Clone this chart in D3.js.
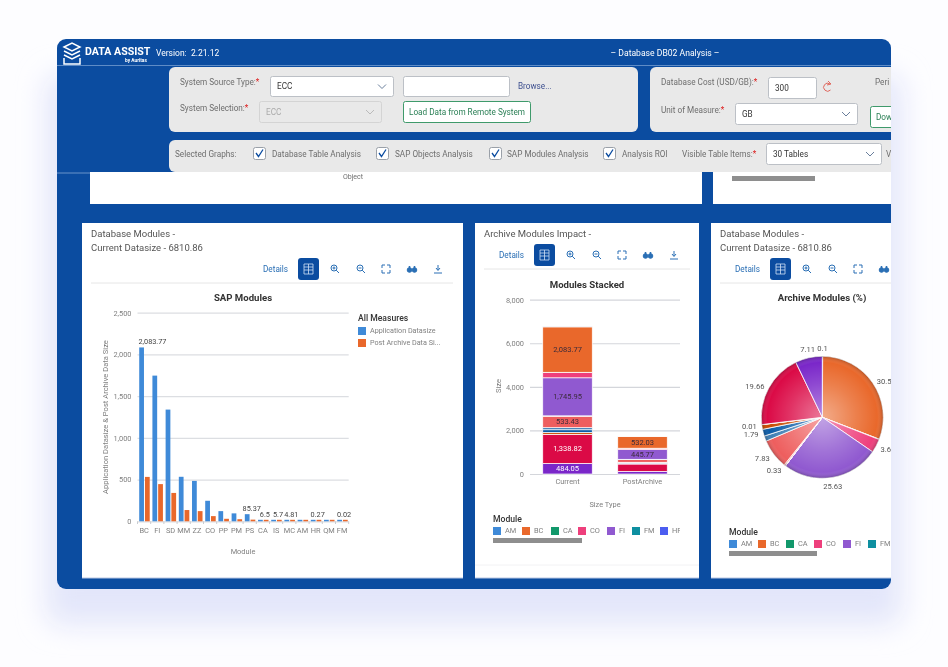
<!DOCTYPE html>
<html>
<head>
<meta charset="utf-8">
<script src="https://cdn.jsdelivr.net/npm/d3@7"></script>
<style>
  html, body { margin: 0; padding: 0; background: #fdfdff; overflow: hidden; }
  text { font-family: Roboto, sans-serif; }
  svg { filter: blur(0.35px); }
</style>
</head>
<body>
<div id="wrapper"></div>
<script>
// bar chart data, in the order shown on the x axis
const barModules = ["BC", "FI", "SD", "MM", "ZZ", "CO", "PP", "PM", "PS", "CA", "IS", "MC", "AM", "HR", "QM", "FM"]
const appDatasize = [2083.77, 1745.95, 1338.82, 533.43, 484.05, 246, 121.9, 95, 85.37, 6.5, 5.7, 4.81, 7, 0.27, 0.7, 0.02]
const postDatasize = [532.03, 445.77, 340, 135, 122, 62, 30, 25, 20, 1.5, 1.4, 1.2, 0.5, 0.07, 0.1, 0.01]
const barLabels = ["2,083.77", "", "", "", "", "", "", "", "85.37", "6.5", "5.7", "4.81", "", "0.27", "", "0.02"]
const barTicks = [0, 500, 1000, 1500, 2000, 2500]
const measureNames = ["Application Datasize", "Post Archive Data Si..."]

// stacked chart and pie use the alphabetical module order
const modules = ["AM", "BC", "CA", "CO", "FI", "FM", "HR", "IS", "MC", "MM", "PM", "PP", "PS", "QM", "SD", "ZZ"]
const moduleColors = ["#3f8ad8", "#e9682b", "#12986b", "#ee3f7c", "#9059d0", "#0e8fa0", "#4c5df0", "#e0a030",
  "#f08a8a", "#ee5e5e", "#3f7fb5", "#0b5ca8", "#c94a00", "#f2508a", "#db0a46", "#7a27c9"]
const sizeTypes = ["Current", "PostArchive"]
const stackTicks = [0, 2000, 4000, 6000, 8000]
const stackLabels = { Current: ["BC", "FI", "MM", "SD", "ZZ"], PostArchive: ["BC", "FI"] }

const piePercent = [0.1, 30.59, 0.1, 3.62, 25.63, 0, 0, 0.08, 0.33, 7.83, 1.4, 1.79, 1.25, 0.01, 19.66, 7.11]
const pieLabels = ["0.1", "30.59", "", "3.62", "25.63", "", "", "", "0.33", "7.83", "", "1.79", "", "0.01", "19.66", "7.11"]

const BLUE = "#0b4ca0"
const svg = d3.select("#wrapper").append("svg")
  .attr("width", 948)
  .attr("height", 667)
  .style("display", "block")
const defs = svg.append("defs")

defs.append("filter").attr("id", "glow")
  .attr("x", "-20%").attr("y", "-20%").attr("width", "140%").attr("height", "140%")
  .append("feGaussianBlur").attr("stdDeviation", 14)
defs.append("clipPath").attr("id", "frameClip")
  .append("rect").attr("x", 57).attr("y", 39).attr("width", 834).attr("height", 550).attr("rx", 9)
defs.append("clipPath").attr("id", "legendClip")
  .append("rect").attr("x", 490).attr("y", 510).attr("width", 190).attr("height", 30)

const pieGlaze = defs.append("radialGradient").attr("id", "pieGlaze")
pieGlaze.append("stop").attr("offset", "0%").attr("stop-color", "#fff").attr("stop-opacity", 0.45)
pieGlaze.append("stop").attr("offset", "55%").attr("stop-color", "#fff").attr("stop-opacity", 0.16)
pieGlaze.append("stop").attr("offset", "90%").attr("stop-color", "#fff").attr("stop-opacity", 0)
pieGlaze.append("stop").attr("offset", "100%").attr("stop-color", "#000").attr("stop-opacity", 0.22)

// soft shadow under the window
svg.append("rect")
  .attr("x", 46).attr("y", 75).attr("width", 856).attr("height", 550).attr("rx", 14)
  .attr("fill", "#e3e6fa")
  .attr("filter", "url(#glow)")

const page = svg.append("g").attr("clip-path", "url(#frameClip)")
page.append("rect").attr("x", 57).attr("y", 39).attr("width", 834).attr("height", 550).attr("fill", BLUE)

function label(parent, x, y, str, opts = {}) {
  return parent.append("text")
    .attr("x", x)
    .attr("y", y + 0.5)
    .attr("font-size", opts.size || 8.2)
    .attr("font-weight", opts.weight || 400)
    .attr("fill", opts.fill || "#6e6e6e")
    .attr("text-anchor", opts.anchor || "start")
    .attr("dominant-baseline", "middle")
    .text(str)
}

function box(parent, x, y, w, h, opts = {}) {
  return parent.append("rect")
    .attr("x", x).attr("y", y).attr("width", w).attr("height", h)
    .attr("rx", opts.rx === undefined ? 2 : opts.rx)
    .attr("fill", opts.fill || "#fff")
    .attr("stroke", opts.stroke || "none")
    .attr("stroke-width", opts.sw || 1)
}

// ---- header ----
page.append("line").attr("x1", 57).attr("x2", 891).attr("y1", 65.5).attr("y2", 65.5)
  .attr("stroke", "#5f8cc6").attr("stroke-width", 1)
page.append("path")
  .attr("d", "M64 47 L72 43 L80 47 L72 51 Z M64 51 L72 55 L80 51 M64 55 L72 59 L80 55 M64 58 V64 H80 V58")
  .attr("fill", "none").attr("stroke", "#fff").attr("stroke-width", 1.5)
label(page, 85, 52, "DATA ASSIST", { size: 10.6, weight: 700, fill: "#fff" })
label(page, 125, 60.5, "by Auritas", { size: 4.8, weight: 700, fill: "#fff" })
label(page, 156, 53, "Version:  2.21.12", { size: 8.5, fill: "#fff" }).attr("xml:space", "preserve")
label(page, 665, 53, "– Database DB02 Analysis –", { size: 8.6, fill: "#fff", anchor: "middle" })

// ---- content hidden behind the filter bar ----
box(page, 90, 172, 612, 32, { rx: 0 })
box(page, 713, 172, 190, 32, { rx: 0 })
label(page, 353, 177, "Object", { size: 7, anchor: "middle" })
box(page, 732, 176, 83, 5, { rx: 0, fill: "#8e8e8e" })
page.append("line").attr("x1", 57).attr("x2", 90).attr("y1", 173).attr("y2", 173).attr("stroke", "#6b93c9")

// ---- filter panels ----
box(page, 169, 67, 469, 65, { rx: 6, fill: "#e9e9e9" })
box(page, 650, 67, 260, 65, { rx: 6, fill: "#e9e9e9" })
box(page, 169, 140, 740, 32, { rx: 6, fill: "#e9e9e9" })

function required(parent, x, y, str) {
  const t = label(parent, x, y, str)
  t.append("tspan").attr("fill", "#d22").text("*")
}

function chevron(parent, x, y, color) {
  parent.append("path")
    .attr("d", `M${x - 4} ${y - 2} L${x} ${y + 2} L${x + 4} ${y - 2}`)
    .attr("fill", "none").attr("stroke", color || "#6a7f9c").attr("stroke-width", 1)
}

function select(parent, x, y, w, h, str, disabled) {
  box(parent, x + 0.5, y + 0.5, w, h, {
    fill: disabled ? "#e9e9e9" : "#fff",
    stroke: disabled ? "#d4d4d4" : "#bcc0c6"
  })
  label(parent, x + 7, y + h / 2 + 0.5, str, { fill: disabled ? "#aaa" : "#333" })
  chevron(parent, x + w - 11, y + h / 2 + 0.5, disabled ? "#bbb" : "#6a7f9c")
}

required(page, 180, 82, "System Source Type:")
select(page, 270, 76, 123, 20, "ECC")
box(page, 403.5, 76.5, 106, 20, { stroke: "#bcc0c6" })
label(page, 518, 86, "Browse...", { fill: "#3d4f8f" })
required(page, 180, 108, "System Selection:")
select(page, 259, 101, 122, 21, "ECC", true)
box(page, 403.5, 101.5, 127, 21, { stroke: "#3f9a6b" })
label(page, 409, 112, "Load Data from Remote System", { fill: "#2a7f55" })

required(page, 661, 82, "Database Cost (USD/GB):")
box(page, 768.5, 77.5, 48, 21, { stroke: "#bcc0c6" })
label(page, 775, 88, "300", { fill: "#333" })
page.append("path")
  .attr("d", "M830 84 A4 4 0 1 0 830.5 90")
  .attr("fill", "none").attr("stroke", "#e0685f").attr("stroke-width", 1)
page.append("path").attr("d", "M828 81 L831 84 L827 85").attr("fill", "none").attr("stroke", "#e0685f")
label(page, 875, 82, "Peri")
required(page, 661, 110, "Unit of Measure:")
select(page, 735, 103, 122, 21, "GB")
box(page, 870.5, 106.5, 60, 21, { stroke: "#3f9a6b" })
label(page, 876, 117, "Download", { fill: "#2a7f55" })

label(page, 175, 154, "Selected Graphs:")
const graphChecks = [[253, 272, "Database Table Analysis"], [376, 395, "SAP Objects Analysis"],
  [489, 507, "SAP Modules Analysis"], [603, 622, "Analysis ROI"]]
graphChecks.forEach(([cx, tx, str]) => {
  box(page, cx + 0.5, 147.5, 12, 12, { stroke: "#9aa0a8" })
  page.append("path").attr("d", `M${cx + 3} ${153} L${cx + 5.5} ${156.5} L${cx + 10} ${149.5}`)
    .attr("fill", "none").attr("stroke", BLUE).attr("stroke-width", 1.3)
  label(page, tx, 154, str)
})
required(page, 682, 154, "Visible Table Items:")
select(page, 766, 143, 115, 21, "30 Tables")
label(page, 886, 154, "Vis")

// ---- cards ----
function card(x, w, lines, titleX) {
  box(page, x, 223, w, 355, { rx: 0 })
  page.append("line").attr("x1", x).attr("x2", x + w).attr("y1", 578).attr("y2", 578).attr("stroke", "#b9c7e3")
  lines.forEach((str, i) => label(page, titleX, 234 + i * 14, str, { size: 9.5, fill: "#555" }))
}

function toolbar(x, y, dividerX1, dividerX2) {
  // x is the left edge of the Details link, y the row centre
  label(page, x, y, "Details", { size: 8.2, fill: "#2a6fb5" })
  box(page, x + 35, y - 11, 21, 22, { rx: 3, fill: BLUE })
  page.append("path")
    .attr("d", `M${x + 41} ${y - 5} h9 v10 h-9 Z M${x + 45.5} ${y - 5} v10 M${x + 41} ${y - 2} h9 M${x + 41} ${y + 1} h9`)
    .attr("fill", "none").attr("stroke", "#cfe0f5").attr("stroke-width", 0.8)
  const ink = "#2a6fb5"
  const icon = page.append("g").attr("fill", "none").attr("stroke", ink).attr("stroke-width", 1)
  // zoom in, zoom out
  const zoomXs = [x + 72, x + 98]
  zoomXs.forEach((ix, i) => {
    icon.append("circle").attr("cx", ix - 1).attr("cy", y - 1).attr("r", 3)
    icon.append("path").attr("d", `M${ix + 1.2} ${y + 1.2} L${ix + 4} ${y + 4} M${ix - 2.5} ${y - 1} h3`
      + (i === 0 ? ` M${ix - 1} ${y - 2.5} v3` : ""))
  })
  // fullscreen
  const fx = x + 123
  icon.append("path").attr("d", `M${fx - 4} ${y - 1} v-3 h3 M${fx + 1} ${y - 4} h3 v3 M${fx + 4} ${y + 1} v3 h-3 M${fx - 1} ${y + 4} h-3 v-3`)
  // binoculars
  const bx = x + 149
  icon.append("circle").attr("cx", bx - 2.5).attr("cy", y + 1).attr("r", 2.3).attr("fill", ink)
  icon.append("circle").attr("cx", bx + 2.5).attr("cy", y + 1).attr("r", 2.3).attr("fill", ink)
  icon.append("path").attr("d", `M${bx - 2.5} ${y - 3} v2 M${bx + 2.5} ${y - 3} v2`).attr("stroke-width", 1.6)
  // download
  const dx = x + 175
  icon.append("path").attr("d", `M${dx} ${y - 4} v5 M${dx - 2} ${y - 1} L${dx} ${y + 1.5} L${dx + 2} ${y - 1} M${dx - 4} ${y + 4} h8`)
  page.append("line").attr("x1", dividerX1).attr("x2", dividerX2).attr("y1", y + 14).attr("y2", y + 14)
    .attr("stroke", "#e6e6e6")
}

function moduleLegend(parent, x, y, xs) {
  label(parent, x, y, "Module", { size: 8.6, weight: 500, fill: "#333" })
  const shown = modules.slice(0, xs.length)
  const items = parent.selectAll(null).data(shown).join("g")
  items.append("rect")
    .attr("x", (d, i) => xs[i]).attr("y", y + 8).attr("width", 8).attr("height", 8)
    .attr("fill", (d, i) => moduleColors[i])
  items.append("text")
    .attr("x", (d, i) => xs[i] + 12).attr("y", y + 12.5)
    .attr("dominant-baseline", "middle").attr("font-size", 7.4).attr("fill", "#808080")
    .text(d => d)
}

function styleAxis(g) {
  g.select(".domain").remove()
  g.selectAll("text").attr("fill", "#808080").attr("font-size", 7.4)
    .attr("font-family", "Roboto, sans-serif")
}

card(82, 381, ["Database Modules -", "Current Datasize - 6810.86"], 91)
card(475, 224, ["Archive Modules Impact -"], 484)
card(711, 200, ["Database Modules -", "Current Datasize - 6810.86"], 720)
toolbar(263, 269, 91, 453)
toolbar(499, 255, 484, 690)
toolbar(735, 269, 720, 900)
page.append("line").attr("x1", 475).attr("x2", 699).attr("y1", 565).attr("y2", 565).attr("stroke", "#f2f2f4")

// ---- SAP Modules grouped bars ----
const barBounds = page.append("g")
const barX = d3.scaleBand().domain(barModules).range([137.5, 348.7])
const barY = d3.scaleLinear().domain([0, 2500]).range([521.3, 312.7])

label(page, 243, 298, "SAP Modules", { size: 9.6, weight: 700, fill: "#333", anchor: "middle" })
barBounds.append("g")
  .attr("transform", "translate(137.5,0)")
  .call(d3.axisLeft(barY).tickValues(barTicks).tickSize(-211.2).tickPadding(6).tickFormat(d3.format(",")))
  .call(styleAxis)
  .call(g => g.selectAll("line").attr("stroke", "#dcdee2").attr("stroke-width", 1.2))
barBounds.append("g")
  .attr("transform", "translate(0,521.3)")
  .call(d3.axisBottom(barX).tickSize(0).tickPadding(6))
  .call(styleAxis)
barBounds.selectAll(".edge").data(d3.range(barModules.length + 1)).join("line")
  .attr("class", "edge")
  .attr("x1", i => barX.range()[0] + i * barX.step())
  .attr("x2", i => barX.range()[0] + i * barX.step())
  .attr("y1", 521.3).attr("y2", 524)
  .attr("stroke", "#c9ccd1")

const barWidth = barX.step() * 0.36
const minBar = 1.5
const barSeries = [appDatasize, postDatasize]
const barColors = ["#3f8ad8", "#e9682b"]
barSeries.forEach((values, s) => {
  barBounds.append("g").selectAll("rect").data(values).join("rect")
    .attr("x", (d, i) => barX(barModules[i]) + barX.step() * 0.13 + s * (barWidth + 1))
    .attr("width", barWidth)
    .attr("y", d => Math.min(barY(d), barY(0) - minBar))
    .attr("height", d => Math.max(barY(0) - barY(d), minBar))
    .attr("fill", barColors[s])
})
barBounds.append("g").selectAll("text").data(barLabels).join("text")
  .attr("x", (d, i) => barX(barModules[i]) + barX.bandwidth() / 2 + 2)
  .attr("y", (d, i) => Math.min(barY(appDatasize[i]), barY(0) - minBar) - 3)
  .attr("text-anchor", "middle")
  .attr("font-size", 7.3).attr("fill", "#444")
  .text(d => d)
  .each(function () {
    // keep the tall bar's label from running past the left edge of the plot
    const w = this.getComputedTextLength()
    const x = +d3.select(this).attr("x")
    if (x - w / 2 < 138.5) d3.select(this).attr("x", 138.5 + w / 2)
  })

label(page, 243, 552, "Module", { size: 7.4, fill: "#808080", anchor: "middle" })
label(page, 0, 0, "Application Datasize & Post Archive Data Size", { size: 7.6, fill: "#808080", anchor: "middle" })
  .attr("transform", "translate(105,417) rotate(-90)")
label(page, 358, 318, "All Measures", { size: 8.6, weight: 500, fill: "#333" })
measureNames.forEach((name, i) => {
  box(page, 358, 327 + i * 12, 8, 8, { rx: 0, fill: barColors[i] })
  label(page, 370, 331 + i * 12, name, { size: 7.2, fill: "#808080" })
})

// ---- Modules Stacked ----
const stackX = d3.scaleBand().domain(sizeTypes).range([530, 680]).paddingInner(0.34).paddingOuter(0.17)
const stackY = d3.scaleLinear().domain([0, 8000]).range([474, 299.7])
const stackRows = sizeTypes.map((type, t) => {
  const row = { type }
  modules.forEach(m => {
    const i = barModules.indexOf(m)
    row[m] = (t === 0 ? appDatasize : postDatasize)[i]
  })
  return row
})
// the series runs bottom up, so the last module alphabetically sits on the axis
const stacked = d3.stack().keys(modules.slice().reverse())(stackRows)
const stackColor = d3.scaleOrdinal().domain(modules).range(moduleColors)

label(page, 587, 285, "Modules Stacked", { size: 9.6, weight: 700, fill: "#333", anchor: "middle" })
const stackBounds = page.append("g")
stackBounds.append("g")
  .attr("transform", "translate(530,0)")
  .call(d3.axisLeft(stackY).tickValues(stackTicks).tickSize(-150).tickPadding(6).tickFormat(d3.format(",")))
  .call(styleAxis)
  .call(g => g.selectAll("line").attr("stroke", "#d4d6db").attr("stroke-width", 1.2))
stackBounds.append("g")
  .attr("transform", "translate(0,474)")
  .call(d3.axisBottom(stackX).tickSize(0).tickPadding(5))
  .call(styleAxis)
stackBounds.selectAll(".layer").data(stacked).join("g")
  .attr("class", "layer")
  .attr("fill", d => stackColor(d.key))
  .selectAll("rect").data(d => d).join("rect")
    .attr("x", d => stackX(d.data.type))
    .attr("width", stackX.bandwidth())
    .attr("y", d => stackY(d[1]))
    .attr("height", d => stackY(d[0]) - stackY(d[1]))
    .attr("stroke", "#fff")
    .attr("stroke-width", 0.7)
stacked.forEach(layer => {
  layer.forEach(d => {
    if (!stackLabels[d.data.type].includes(layer.key)) return
    const light = layer.key === "SD" || layer.key === "ZZ"
    label(stackBounds, stackX(d.data.type) + stackX.bandwidth() / 2, stackY((d[0] + d[1]) / 2),
      d3.format(",.2f")(d[1] - d[0]), { size: 7.5, fill: light ? "#fff" : "#3a2a3a", anchor: "middle" })
  })
})
label(page, 0, 0, "Size", { size: 7.6, fill: "#808080", anchor: "middle" })
  .attr("transform", "translate(498,386) rotate(-90)")
label(page, 605, 505, "Size Type", { size: 7.4, fill: "#808080", anchor: "middle" })
moduleLegend(page.append("g").attr("clip-path", "url(#legendClip)"), 493, 519, [493, 522, 551, 578, 607, 632, 660])
box(page, 493, 538, 89, 5, { rx: 0, fill: "#8e8e8e" })

// ---- Archive Modules (%) pie ----
const pieCenter = [822.3, 417.3]
const pieRadius = 61
const pieGroup = page.append("g").attr("transform", `translate(${pieCenter})`)
const pieArcs = d3.pie().sort(null).value(d => d)(piePercent)
const arc = d3.arc().innerRadius(0).outerRadius(pieRadius)

label(page, 822, 298, "Archive Modules (%)", { size: 9.6, weight: 700, fill: "#333", anchor: "middle" })
pieGroup.selectAll("path").data(pieArcs).join("path")
  .attr("d", arc)
  .attr("fill", (d, i) => moduleColors[i])
  .attr("stroke", "#fff")
  .attr("stroke-width", 0.8)
pieGroup.append("circle").attr("r", pieRadius).attr("fill", "url(#pieGlaze)")

pieArcs.forEach((d, i) => {
  if (!pieLabels[i]) return
  const a = (d.startAngle + d.endAngle) / 2
  const sin = Math.sin(a)
  const cos = Math.cos(a)
  const anchor = Math.abs(sin) < 0.25 ? "middle" : (sin > 0 ? "start" : "end")
  const R = pieRadius + 5
  label(pieGroup, sin * R, -cos * R + (cos > 0.9 ? -3 : cos < -0.9 ? 4 : 1), pieLabels[i],
    { size: 7.6, fill: "#555", anchor })
})
moduleLegend(page, 729, 532, [729, 758, 786, 814, 843, 868])
box(page, 729, 551, 88, 5, { rx: 0, fill: "#8e8e8e" })
</script>
</body>
</html>
